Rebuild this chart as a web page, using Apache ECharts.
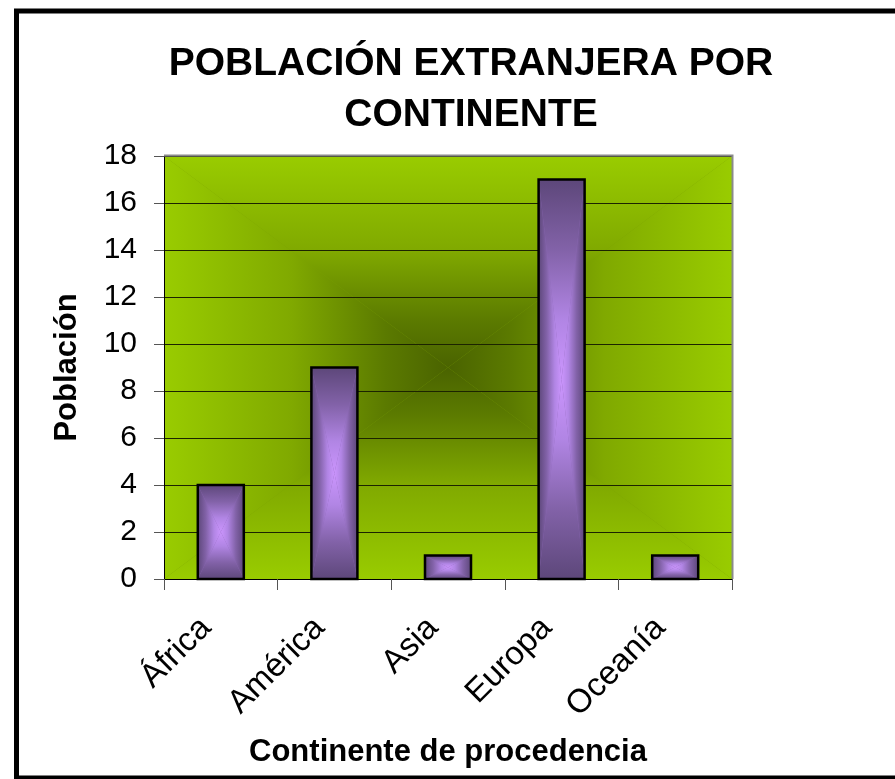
<!DOCTYPE html>
<html>
<head>
<meta charset="utf-8">
<script src="https://cdn.jsdelivr.net/npm/echarts@6/dist/echarts.min.js"></script>
<style>
html,body{margin:0;padding:0;background:#fff;overflow:hidden;}
#chart{width:895px;height:779px;}
</style>
</head>
<body>
<div id="chart"></div>
<script>
// ---- data ----
const categories = ['África', 'América', 'Asia', 'Europa', 'Oceanía'];
const poblacion = [4, 9, 1, 17, 1];
const yTicks = { min: 0, max: 18, interval: 2 };
const titleText = 'POBLACIÓN EXTRANJERA POR\nCONTINENTE';
const yName = 'Población';
const xName = 'Continente de procedencia';

// ---- layout ----
const FONT = '"Liberation Sans", Arial, sans-serif';
const G = { left: 164, top: 156, width: 568, height: 423 };
const gx0 = G.left, gy0 = G.top, gx1 = G.left + G.width, gy1 = G.top + G.height;
const gcx = (gx0 + gx1) / 2, gcy = (gy0 + gy1) / 2;

function grad(x1, y1, x2, y2, stops) {
  return new echarts.graphic.LinearGradient(x1, y1, x2, y2,
    stops.map(s => ({ offset: s[0], color: s[1] })));
}
const bgStops = [[0, '#99cc00'], [0.45, '#80a900'], [0.78, '#5b7a00'], [1, '#4a6300']];
const bgRev = bgStops.map(s => [1 - s[0], s[1]]).reverse();

const bgGraphics = [
  { type: 'rect', shape: { x: gx0, y: gy0, width: G.width, height: G.height }, style: { fill: '#7aa200' }, z: -20, silent: true },
  { type: 'polygon', shape: { points: [[gx0, gy0], [gcx, gcy], [gx0, gy1]] }, style: { fill: grad(0, 0, 1, 0, bgStops) }, z: -19, silent: true },
  { type: 'polygon', shape: { points: [[gx1, gy0], [gcx, gcy], [gx1, gy1]] }, style: { fill: grad(0, 0, 1, 0, bgRev) }, z: -19, silent: true },
  { type: 'polygon', shape: { points: [[gx0, gy0], [gcx, gcy], [gx1, gy0]] }, style: { fill: grad(0, 0, 0, 1, bgStops) }, z: -19, silent: true },
  { type: 'polygon', shape: { points: [[gx0, gy1], [gcx, gcy], [gx1, gy1]] }, style: { fill: grad(0, 0, 0, 1, bgRev) }, z: -19, silent: true },
  // plot border top/right (gray)
  { type: 'polyline', shape: { points: [[gx0, gy0 - 0.5], [gx1 + 0.5, gy0 - 0.5], [gx1 + 0.5, gy1]] }, style: { stroke: '#8a8a8a', lineWidth: 2, fill: null }, z: 5, silent: true },
  // outer frame
  { type: 'rect', shape: { x: 16.5, y: 11, width: 1000, height: 767 }, style: { stroke: '#000', lineWidth: 5, fill: null }, z: 10, silent: true }
];

const barStops = [[0, '#5d477a'], [0.35, '#8262a8'], [0.7, '#b185e4'], [1, '#cb95fd']];
const barRev = barStops.map(s => [1 - s[0], s[1]]).reverse();

function renderBar(params, api) {
  const idx = api.value(0);
  const v = api.value(1);
  const base = api.coord([idx, 0]);
  const top = api.coord([idx, v]);
  const bw = api.size([1, 0])[0] * 0.405;
  const x0 = base[0] - bw / 2, x1 = base[0] + bw / 2;
  const y0 = top[1], y1 = base[1];
  const xc = base[0], yc = (y0 + y1) / 2;
  return {
    type: 'group',
    children: [
      { type: 'rect', shape: { x: x0, y: y0, width: bw, height: y1 - y0 }, style: { fill: '#8a66b4' } },
      { type: 'polygon', shape: { points: [[x0, y0], [xc, yc], [x0, y1]] }, style: { fill: grad(0, 0, 1, 0, barStops) } },
      { type: 'polygon', shape: { points: [[x1, y0], [xc, yc], [x1, y1]] }, style: { fill: grad(0, 0, 1, 0, barRev) } },
      { type: 'polygon', shape: { points: [[x0, y0], [xc, yc], [x1, y0]] }, style: { fill: grad(0, 0, 0, 1, barStops) } },
      { type: 'polygon', shape: { points: [[x0, y1], [xc, yc], [x1, y1]] }, style: { fill: grad(0, 0, 0, 1, barRev) } },
      { type: 'rect', shape: { x: x0, y: y0, width: bw, height: y1 - y0 }, style: { fill: null, stroke: '#000', lineWidth: 2.5 } }
    ]
  };
}

const chart = echarts.init(document.getElementById('chart'), null, { renderer: 'canvas' });
chart.setOption({
  animation: false,
  backgroundColor: '#ffffff',
  title: {
    text: titleText,
    left: 466,
    top: 34,
    textAlign: 'center',
    textStyle: { fontFamily: FONT, fontSize: 39, fontWeight: 'bold', color: '#000', lineHeight: 51 }
  },
  grid: { left: G.left, top: G.top, width: G.width, height: G.height, containLabel: false, outerBoundsMode: 'none' },
  xAxis: {
    type: 'category',
    data: categories,
    boundaryGap: true,
    axisLine: { show: true, lineStyle: { color: '#000', width: 1 } },
    axisTick: { show: true, length: 11, lineStyle: { color: '#555' } },
    axisLabel: { rotate: 45, fontSize: 33, fontFamily: FONT, color: '#000', margin: 29, interval: 0, padding: [0, 21, 0, 0] },
    splitLine: { show: false },
    name: xName,
    nameLocation: 'middle',
    nameGap: 158,
    nameTextStyle: { fontFamily: FONT, fontSize: 31, fontWeight: 'bold', color: '#000' }
  },
  yAxis: {
    type: 'value',
    min: yTicks.min, max: yTicks.max, interval: yTicks.interval,
    axisLine: { show: true, lineStyle: { color: '#000', width: 1 } },
    axisTick: { show: true, length: 10, lineStyle: { color: '#555' } },
    axisLabel: { fontSize: 30, fontFamily: FONT, color: '#000', margin: 27 },
    splitLine: { show: true, lineStyle: { color: '#1c2400', width: 1 } },
    name: yName,
    nameLocation: 'middle',
    nameRotate: 90,
    nameGap: 81,
    nameTextStyle: { fontFamily: FONT, fontSize: 31, fontWeight: 'bold', color: '#000' }
  },
  graphic: bgGraphics,
  series: [{
    type: 'custom',
    name: yName,
    renderItem: renderBar,
    encode: { x: 0, y: 1 },
    data: poblacion.map((v, i) => [i, v]),
    z: 3
  }]
});
</script>
</body>
</html>
